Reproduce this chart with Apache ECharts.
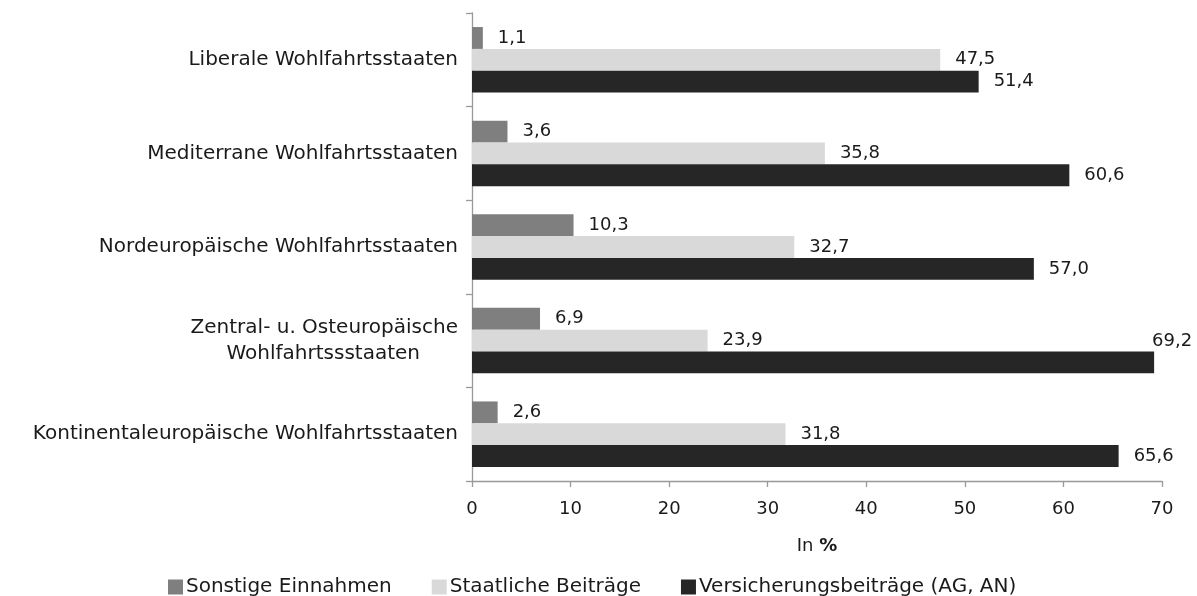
<!DOCTYPE html>
<html>
<head>
<meta charset="utf-8">
<script src="https://cdn.jsdelivr.net/npm/echarts@6/dist/echarts.min.js"></script>
<style>
  html, body { margin: 0; padding: 0; background: #fff; }
  #chart { width: 1197px; height: 596px; }
</style>
</head>
<body>
<div id="chart"></div>
<script>
// Categories (top to bottom)
const categories = [
  'Liberale Wohlfahrtsstaaten',
  'Mediterrane Wohlfahrtsstaaten',
  'Nordeuropäische Wohlfahrtsstaaten',
  'Zentral- u. Osteuropäische\nWohlfahrtssstaaten',
  'Kontinentaleuropäische Wohlfahrtsstaaten'
];
const seriesNames = ['Sonstige Einnahmen', 'Staatliche Beiträge', 'Versicherungsbeiträge (AG, AN)'];
const sonstige = [1.1, 3.6, 10.3, 6.9, 2.6];
const staatlich = [47.5, 35.8, 32.7, 23.9, 31.8];
const versicherung = [51.4, 60.6, 57.0, 69.2, 65.6];
const xTicks = [0, 10, 20, 30, 40, 50, 60, 70];

const FONT = 'DejaVu Sans';
const TEXT = '#1a1a1a';
const colors = ['#7f7f7f', '#d9d9d9', '#262626'];

const fmt = v => v.toFixed(1).replace('.', ',');

function labelData(values, overrides) {
  return values.map((v, i) => {
    const item = { value: v };
    if (overrides && overrides[i]) item.label = overrides[i];
    return item;
  });
}

function makeSeries(name, values, color, overrides) {
  return {
    name: name,
    type: 'bar',
    data: labelData(values, overrides),
    itemStyle: { color: color },
    barGap: '0%',
    barCategoryGap: '30%',
    label: {
      show: true,
      position: 'right',
      distance: 15,
      color: TEXT,
      fontFamily: FONT,
      fontSize: 18,
      formatter: p => fmt(p.value)
    }
  };
}

const chart = echarts.init(document.getElementById('chart'));
chart.setOption({
  animation: false,
  textStyle: { fontFamily: FONT },
  grid: { left: 472, right: 35, top: 13, bottom: 115 },
  legend: {
    top: 572,
    left: 163,
    itemWidth: 15,
    itemHeight: 15,
    itemGap: 40,
    icon: 'rect',
    textStyle: { fontFamily: FONT, fontSize: 20, color: TEXT, padding: [0, 0, 0, -2] },
    data: seriesNames
  },
  xAxis: {
    type: 'value',
    min: 0,
    max: 70,
    interval: 10,
    name: 'In {b|%}',
    nameLocation: 'middle',
    nameGap: 56,
    nameTextStyle: {
      fontFamily: FONT, fontSize: 18, color: TEXT,
      rich: { b: { fontWeight: 'bold', fontSize: 18, fontFamily: FONT, color: TEXT } }
    },
    axisLine: { show: true, lineStyle: { color: '#999', width: 1.3 } },
    axisTick: { show: true, length: 6, lineStyle: { color: '#999', width: 1.3 } },
    splitLine: { show: false },
    axisLabel: {
      fontFamily: FONT, fontSize: 18, color: TEXT, margin: 19,
      formatter: v => xTicks.includes(v) ? String(v) : ''
    }
  },
  yAxis: {
    type: 'category',
    data: categories,
    inverse: true,
    axisLine: { show: true, lineStyle: { color: '#999', width: 1.3 } },
    axisTick: { show: true, length: 6, lineStyle: { color: '#999', width: 1.3 } },
    axisLabel: {
      fontFamily: FONT, fontSize: 20, color: TEXT, margin: 14, lineHeight: 26,
      formatter: v => {
        if (v.indexOf('\n') >= 0) {
          const parts = v.split('\n');
          return parts[0] + '\n{b|' + parts[1] + '}';
        }
        return v;
      },
      rich: { b: { fontFamily: FONT, fontSize: 20, color: TEXT, lineHeight: 26, padding: [0, 38, 0, 0] } }
    }
  },
  series: [
    makeSeries(seriesNames[0], sonstige, colors[0]),
    makeSeries(seriesNames[1], staatlich, colors[1]),
    makeSeries(seriesNames[2], versicherung, colors[2], { 3: { offset: [-17, -21] } })
  ]
});
</script>
</body>
</html>
